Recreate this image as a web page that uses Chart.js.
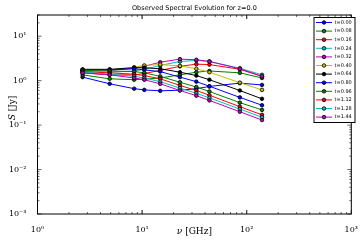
<!DOCTYPE html>
<html>
<head>
<meta charset="utf-8">
<script src="https://cdn.jsdelivr.net/npm/chart.js@4"></script>
<style>
  html, body { margin: 0; padding: 0; background: #fff; }
  #wrap { width: 361px; height: 244px; }
</style>
</head>
<body>
<div id="wrap"><canvas id="grafica" width="361" height="244"></canvas></div>
<script>
// frecuencias observadas (GHz)
const freqs = [2.7, 4.9, 8.4, 10.5, 14.9, 23, 33, 44, 86, 140];
const times = ['0.00', '0.08', '0.16', '0.24', '0.32', '0.40', '0.64', '0.80', '0.96', '1.12', '1.28', '1.44'];

// flujos S [Jy] por tiempo
const s000 = [1.20, 0.85, 0.66, 0.62, 0.59, 0.61, 0.66, 0.74, 0.88, 0.80];
const s008 = [1.35, 1.10, 1.05, 1.08, 1.15, 1.35, 1.55, 1.65, 1.50, 1.15];
const s016 = [1.50, 1.35, 1.35, 1.45, 1.70, 2.10, 2.35, 2.30, 1.80, 1.25];
const s024 = [1.60, 1.55, 1.65, 1.80, 2.20, 2.70, 2.85, 2.70, 1.90, 1.35];
const s032 = [1.70, 1.70, 1.90, 2.10, 2.60, 3.05, 2.95, 2.70, 1.85, 1.25];
const s040 = [1.75, 1.75, 2.00, 2.20, 2.30, 2.15, 1.85, 1.55, 0.90, 0.62];
const s064 = [1.80, 1.80, 1.95, 1.95, 1.85, 1.55, 1.30, 1.05, 0.60, 0.39];
const s080 = [1.75, 1.75, 1.85, 1.75, 1.60, 1.20, 0.95, 0.75, 0.42, 0.28];
const s096 = [1.70, 1.65, 1.60, 1.50, 1.25, 0.92, 0.72, 0.57, 0.32, 0.22];
const s112 = [1.60, 1.50, 1.40, 1.30, 1.10, 0.78, 0.60, 0.47, 0.26, 0.17];
const s128 = [1.55, 1.40, 1.25, 1.15, 0.95, 0.68, 0.52, 0.41, 0.23, 0.15];
const s144 = [1.50, 1.35, 1.15, 1.05, 0.85, 0.60, 0.46, 0.36, 0.20, 0.13];

const flujos = [s000, s008, s016, s024, s032, s040, s064, s080, s096, s112, s128, s144];
const colores = ['#0000ff', '#008000', '#ff0000', '#00bfbf', '#bf00bf', '#bfbf00', '#000000'];

const xTicks = [1, 10, 100, 1000];
const yTicks = [0.001, 0.01, 0.1, 1, 10];
const sup = { '-': '⁻', '0': '⁰', '1': '¹', '2': '²', '3': '³' };

function etiquetaPotencia(v) {
    const e = String(Math.round(Math.log10(v)));
    return '10' + e.split('').map(c => sup[c]).join('');
}

const datasets = flujos.map((serie, i) => {
    const color = colores[i % colores.length];
    return {
        label: 't=' + times[i],
        data: freqs.map((f, j) => ({ x: f, y: serie[j] })),
        borderColor: color,
        backgroundColor: color,
        borderWidth: 1,
        pointRadius: 1.8,
        pointBorderWidth: 0.8,
        pointBorderColor: '#000',
        pointBackgroundColor: color,
        tension: 0,
        order: flujos.length - i
    };
});

// marcas hacia adentro, marco, titulo y leyenda al estilo matplotlib
const estiloMpl = {
    id: 'estiloMpl',
    afterDraw(chart) {
        const ctx = chart.ctx;
        const a = chart.chartArea;
        const xs = chart.scales.x, ys = chart.scales.y;
        ctx.save();
        ctx.strokeStyle = '#000';
        ctx.lineWidth = 1;
        ctx.strokeRect(a.left, a.top, a.right - a.left, a.bottom - a.top);

        ctx.lineWidth = 0.6;
        ctx.beginPath();
        for (let d = 1; d < 1000; d *= 10) {
            for (let k = 1; k <= 10; k++) {
                const v = d * k;
                if (v > 1000) continue;
                const px = xs.getPixelForValue(v);
                const len = (k === 1 || k === 10) ? 4 : 2;
                ctx.moveTo(px, a.bottom); ctx.lineTo(px, a.bottom - len);
                ctx.moveTo(px, a.top); ctx.lineTo(px, a.top + len);
            }
        }
        for (let d = 0.001; d < 30; d *= 10) {
            for (let k = 1; k <= 9; k++) {
                const v = d * k;
                if (v > ys.max) continue;
                const py = ys.getPixelForValue(v);
                const len = k === 1 ? 4 : 2;
                ctx.moveTo(a.left, py); ctx.lineTo(a.left + len, py);
                ctx.moveTo(a.right, py); ctx.lineTo(a.right - len, py);
            }
        }
        ctx.stroke();

        // titulo
        ctx.fillStyle = '#000';
        ctx.textAlign = 'center';
        ctx.textBaseline = 'middle';
        ctx.font = '6.5px "DejaVu Sans"';
        ctx.fillText('Observed Spectral Evolution for z=0.0', (a.left + a.right) / 2, 8);

        // etiquetas de ejes
        ctx.font = 'italic 9px "DejaVu Serif"';
        const nu = 'ν', resto = ' [GHz]';
        const wNu = ctx.measureText(nu).width;
        ctx.font = '9px "DejaVu Serif"';
        const wResto = ctx.measureText(resto).width;
        let x0 = (a.left + a.right) / 2 - (wNu + wResto) / 2;
        ctx.textAlign = 'left';
        ctx.font = 'italic 9px "DejaVu Serif"';
        ctx.fillText(nu, x0, 232);
        ctx.font = '9px "DejaVu Serif"';
        ctx.fillText(resto, x0 + wNu, 232);

        ctx.save();
        ctx.translate(12.5, 108);
        ctx.rotate(-Math.PI / 2);
        ctx.font = 'italic 9px "DejaVu Serif"';
        const wS = ctx.measureText('S').width;
        ctx.font = '9px "DejaVu Serif"';
        const wJy = ctx.measureText(' [Jy]').width;
        x0 = -(wS + wJy) / 2;
        ctx.font = 'italic 9px "DejaVu Serif"';
        ctx.fillText('S', x0, 0);
        ctx.font = '9px "DejaVu Serif"';
        ctx.fillText(' [Jy]', x0 + wS, 0);
        ctx.restore();

        // leyenda
        const lx = 314, ly = 17.5, lw = 41, lh = 105;
        ctx.fillStyle = '#fff';
        ctx.fillRect(lx, ly, lw, lh);
        ctx.lineWidth = 1;
        ctx.strokeStyle = '#000';
        ctx.strokeRect(lx, ly, lw, lh);
        ctx.font = '5px "DejaVu Sans"';
        ctx.textAlign = 'left';
        chart.data.datasets.forEach((ds, i) => {
            const y = 22.5 + i * 8.6;
            ctx.strokeStyle = ds.borderColor;
            ctx.lineWidth = 1;
            ctx.beginPath();
            ctx.moveTo(316, y); ctx.lineTo(332, y);
            ctx.stroke();
            ctx.beginPath();
            ctx.arc(324, y, 1.8, 0, Math.PI * 2);
            ctx.fillStyle = ds.borderColor;
            ctx.fill();
            ctx.lineWidth = 0.8;
            ctx.strokeStyle = '#000';
            ctx.stroke();
            ctx.fillStyle = '#000';
            ctx.fillText(ds.label, 334.5, y);
        });
        ctx.restore();
    }
};

new Chart(document.getElementById('grafica'), {
    type: 'line',
    data: { datasets: datasets },
    options: {
        responsive: false,
        devicePixelRatio: 1,
        animation: false,
        layout: { padding: { left: 0, right: 4, top: 15, bottom: 0 } },
        plugins: {
            legend: { display: false },
            title: { display: false },
            tooltip: { enabled: false }
        },
        scales: {
            x: {
                type: 'logarithmic',
                min: 1,
                max: 1000,
                grid: { display: false },
                border: { display: false },
                afterFit(scale) { scale.height = 30; },
                afterBuildTicks(scale) { scale.ticks = xTicks.map(v => ({ value: v })); },
                ticks: {
                    font: { family: 'DejaVu Serif', size: 8 },
                    color: '#000',
                    padding: 3,
                    maxRotation: 0,
                    autoSkip: false,
                    callback: v => etiquetaPotencia(v)
                }
            },
            y: {
                type: 'logarithmic',
                min: 0.001,
                max: 30,
                grid: { display: false },
                border: { display: false },
                afterFit(scale) { scale.width = 37.5; },
                afterBuildTicks(scale) { scale.ticks = yTicks.map(v => ({ value: v })); },
                ticks: {
                    font: { family: 'DejaVu Serif', size: 8 },
                    color: '#000',
                    padding: 3,
                    autoSkip: false,
                    callback: v => etiquetaPotencia(v)
                }
            }
        }
    },
    plugins: [estiloMpl]
});
</script>
</body>
</html>
